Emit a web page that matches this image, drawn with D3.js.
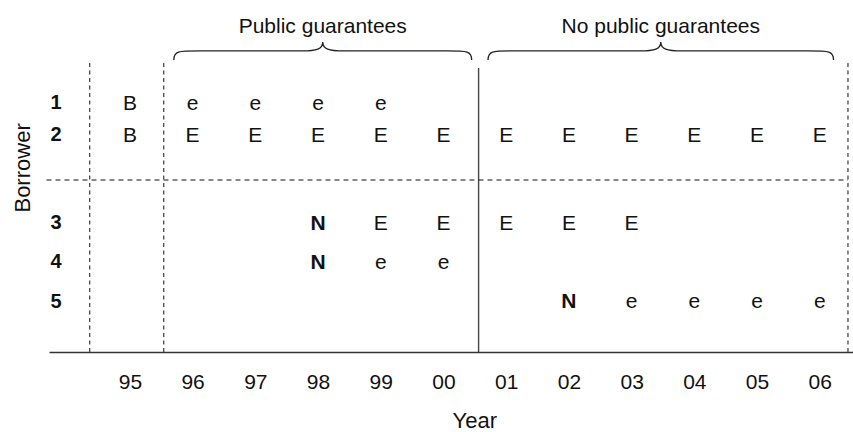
<!DOCTYPE html>
<html>
<head>
<meta charset="utf-8">
<script src="https://cdn.jsdelivr.net/npm/d3@7/dist/d3.min.js"></script>
<style>
  html, body { margin: 0; padding: 0; background: #fff; }
  svg { display: block; font-family: "Liberation Sans", Arial, Helvetica, sans-serif; }
</style>
</head>
<body>
<svg id="chart" width="853" height="432"></svg>
<script>
// ---- data ----
const years = ["95","96","97","98","99","00","01","02","03","04","05","06"];
const borrowers = ["1","2","3","4","5"];
// vertical slot of each borrower row (row units)
const rowLevels = [1, 1.82, 4.08, 5.08, 6.1];
// event codes per borrower, aligned with years
const borrower1 = ["B","e","e","e","e","","","","","","",""];
const borrower2 = ["B","E","E","E","E","E","E","E","E","E","E","E"];
const borrower3 = ["","","","N","E","E","E","E","E","","",""];
const borrower4 = ["","","","N","e","e","","","","","",""];
const borrower5 = ["","","","","","","","N","e","e","e","e"];
const cells = [borrower1, borrower2, borrower3, borrower4, borrower5];
// periods (in year-index units)
const periodLabels = ["Public guarantees", "No public guarantees"];
const periodStart = [0.70, 5.71];
const periodEnd = [5.45, 11.22];
// separators (year-index units)
const separatorPos = [-0.64, 0.54, 5.56, 11.45];
const separatorSolid = [false, false, true, false];
const groupDividerLevel = 3;   // dashed line between borrowers 2 and 3
const topLevel = 0;
const axisLevel = 7.41;

// ---- scales ----
const svg = d3.select("#chart");
const x = d3.scaleLinear().domain([-1.29, 11.53]).range([49, 853]);
const y = d3.scaleLinear().domain([1, 2]).range([102, 141]);

// separators
separatorPos.forEach((p, i) => {
  svg.append("line")
    .attr("x1", x(p)).attr("x2", x(p))
    .attr("y1", y(separatorSolid[i] ? topLevel + 0.13 : topLevel))
    .attr("y2", y(axisLevel))
    .attr("stroke", separatorSolid[i] ? "#444" : "#111")
    .attr("stroke-width", separatorSolid[i] ? 1.4 : 1)
    .attr("stroke-dasharray", separatorSolid[i] ? null : "4,3.5");
});

// horizontal dashed divider
svg.append("line")
  .attr("x1", x(-1.33)).attr("x2", x(11.45))
  .attr("y1", y(groupDividerLevel)).attr("y2", y(groupDividerLevel))
  .attr("stroke", "#111").attr("stroke-width", 1)
  .attr("stroke-dasharray", "5,4");

// x axis
const axis = d3.axisBottom(x)
  .tickValues(d3.range(years.length))
  .tickFormat(i => years[i])
  .tickSize(0).tickSizeOuter(0).tickPadding(22);
const gx = svg.append("g").attr("transform", `translate(0,${y(axisLevel)})`).call(axis);
gx.select(".domain").attr("stroke", "#333").attr("stroke-width", 1.5);
gx.selectAll("text").attr("font-size", 21).attr("fill", "#111")
  .attr("font-family", "Liberation Sans, Arial, sans-serif");

// borrower labels
svg.append("g").selectAll("text").data(borrowers).join("text")
  .attr("x", 56).attr("y", (d, i) => y(rowLevels[i]))
  .attr("dy", "0.36em").attr("text-anchor", "middle")
  .attr("font-size", 20).attr("font-weight", "bold").attr("fill", "#111")
  .text(d => d);

// cells
cells.forEach((row, r) => {
  svg.append("g").selectAll("text")
    .data(row.map((c, i) => ({c, i})).filter(d => d.c !== ""))
    .join("text")
    .attr("x", d => x(d.i)).attr("y", y(rowLevels[r]))
    .attr("dy", "0.36em").attr("text-anchor", "middle")
    .attr("font-size", 21)
    .attr("font-weight", d => d.c === "N" ? "bold" : "normal")
    .attr("fill", "#111")
    .text(d => d.c);
});

// braces
function bracePath(x0, x1, yEnd, yMid, yTip) {
  const m = (x0 + x1) / 2;
  const c = 26, t = 21;
  return `M${x0},${yEnd} C${x0},${yMid} ${x0 + 4},${yMid} ${x0 + c},${yMid}` +
         ` L${m - t},${yMid} C${m - 6},${yMid} ${m},${yMid - 2} ${m},${yTip}` +
         ` C${m},${yMid - 2} ${m + 6},${yMid} ${m + t},${yMid}` +
         ` L${x1 - c},${yMid} C${x1 - 4},${yMid} ${x1},${yMid} ${x1},${yEnd}`;
}
periodLabels.forEach((lab, i) => {
  const x0 = x(periodStart[i]), x1 = x(periodEnd[i]);
  svg.append("path")
    .attr("d", bracePath(x0, x1, y(-0.08), y(-0.31), y(-0.54)))
    .attr("fill", "none").attr("stroke", "#222").attr("stroke-width", 1.3);
  svg.append("text")
    .attr("x", (x0 + x1) / 2).attr("y", 33)
    .attr("text-anchor", "middle").attr("font-size", 21).attr("fill", "#111")
    .text(lab);
});

// axis titles
svg.append("text")
  .attr("x", x(5.5)).attr("y", 428)
  .attr("text-anchor", "middle").attr("font-size", 22).attr("fill", "#111")
  .text("Year");
svg.append("text")
  .attr("transform", `translate(30,${y(2.69)}) rotate(-90)`)
  .attr("text-anchor", "middle").attr("font-size", 22).attr("fill", "#111")
  .text("Borrower");
</script>
</body>
</html>
